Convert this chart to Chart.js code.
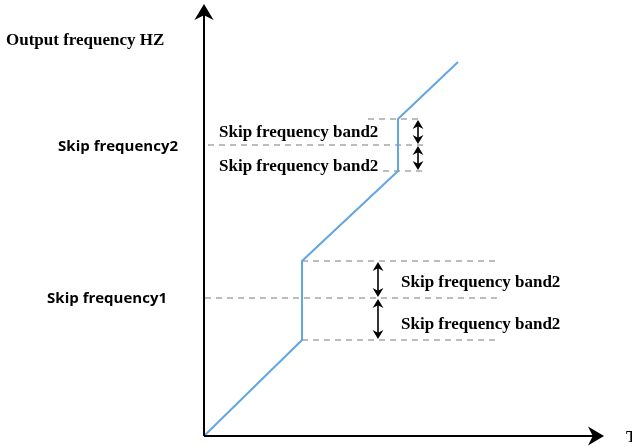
<!DOCTYPE html>
<html>
<head>
<meta charset="utf-8">
<script src="https://cdn.jsdelivr.net/npm/chart.js"></script>
<style>
  html, body { margin: 0; padding: 0; background: #fff; }
  #wrap { width: 632px; height: 447px; }
</style>
</head>
<body>
<div id="wrap"><canvas id="c" width="632" height="447"></canvas></div>
<script>
// output frequency vs time (arbitrary units, origin at the axis corner)
const timeVals = [0, 98, 98, 194, 194, 254];
const freqVals = [0, 96, 175, 265, 317, 374];

// skip frequencies and their band edges
const skipFreqs = [138, 291];
const skipNames = ['Skip frequency1', 'Skip frequency2'];
const bandLow = [96, 265];
const bandHigh = [175, 317];
const bandLabel = 'Skip frequency band2';

// dashed guide lines: [fromTime, toTime, freq]
const guideLines = [
    [98, 293, 175], [1, 293, 138], [98, 293, 96],
    [164, 219, 317], [4, 219, 291], [179, 219, 265]
];

const xMin = -204, xMax = 428, yMin = -11, yMax = 436;

const datasets = [{
    data: timeVals.map((t, i) => ({x: t, y: freqVals[i]})),
    borderColor: '#62a6e2',
    borderWidth: 2,
    pointRadius: 0,
    tension: 0,
    order: 0
}];
guideLines.forEach(g => {
    datasets.push({
        data: [{x: g[0], y: g[2]}, {x: g[1], y: g[2]}],
        borderColor: '#a6a6a6',
        borderWidth: 1.5,
        borderDash: [6, 5],
        pointRadius: 0,
        order: 1
    });
});

function arrowHead(ctx, x, y, dir, size) {
    // dir: 'up','down','right'
    ctx.beginPath();
    if (dir === 'up') {
        ctx.moveTo(x, y); ctx.lineTo(x - size * 0.6, y + size); ctx.lineTo(x, y + size * 0.7); ctx.lineTo(x + size * 0.6, y + size);
    } else if (dir === 'down') {
        ctx.moveTo(x, y); ctx.lineTo(x - size * 0.6, y - size); ctx.lineTo(x, y - size * 0.7); ctx.lineTo(x + size * 0.6, y - size);
    } else {
        ctx.moveTo(x, y); ctx.lineTo(x - size, y - size * 0.6); ctx.lineTo(x - size * 0.7, y); ctx.lineTo(x - size, y + size * 0.6);
    }
    ctx.closePath();
    ctx.fill();
}

const decor = {
    id: 'decor',
    afterDatasetsDraw(chart) {
        const ctx = chart.ctx;
        const sx = chart.scales.x, sy = chart.scales.y;
        const px = v => sx.getPixelForValue(v);
        const py = v => sy.getPixelForValue(v);
        const ox = px(0), oy = py(0);
        ctx.save();
        ctx.strokeStyle = '#000';
        ctx.fillStyle = '#000';
        ctx.lineWidth = 2;
        // axes
        ctx.beginPath();
        ctx.moveTo(ox, oy); ctx.lineTo(ox, 14);
        ctx.moveTo(ox, oy); ctx.lineTo(594, oy);
        ctx.stroke();
        arrowHead(ctx, ox, 4, 'up', 16);
        arrowHead(ctx, 604, oy, 'right', 16);

        // double arrows across the bands
        ctx.lineWidth = 1.6;
        const arrowX = [174, 214];
        for (let i = 0; i < 2; i++) {
            const x = px(arrowX[i]);
            const segs = [[bandHigh[i], skipFreqs[i]], [skipFreqs[i], bandLow[i]]];
            segs.forEach(s => {
                const y1 = py(s[0]) + 1, y2 = py(s[1]) - 1;
                ctx.beginPath();
                ctx.moveTo(x, y1 + 6); ctx.lineTo(x, y2 - 6);
                ctx.stroke();
                arrowHead(ctx, x, y1, 'up', 9);
                arrowHead(ctx, x, y2, 'down', 9);
            });
        }

        // texts
        ctx.textBaseline = 'middle';
        ctx.font = 'bold 17px "Liberation Serif", serif';
        ctx.fillText('Output frequency HZ', 6, 41);
        ctx.fillText('T', 626, oy + 2);
        ctx.fillText(bandLabel, 219, 133);
        ctx.fillText(bandLabel, 219, 167);
        ctx.fillText(bandLabel, 401, 283);
        ctx.fillText(bandLabel, 401, 325);
        ctx.font = 'bold 15px "Open Sans", sans-serif';
        ctx.textAlign = 'right';
        ctx.fillText(skipNames[1], 178, py(skipFreqs[1]) + 2);
        ctx.fillText(skipNames[0], 167, py(skipFreqs[0]) + 1);
        ctx.restore();
    }
};

new Chart(document.getElementById('c'), {
    type: 'line',
    data: {datasets: datasets},
    options: {
        responsive: false,
        animation: false,
        events: [],
        layout: {padding: 0},
        plugins: {legend: {display: false}, tooltip: {enabled: false}},
        scales: {
            x: {type: 'linear', min: xMin, max: xMax, display: false},
            y: {type: 'linear', min: yMin, max: yMax, display: false}
        }
    },
    plugins: [decor]
});
</script>
</body>
</html>
